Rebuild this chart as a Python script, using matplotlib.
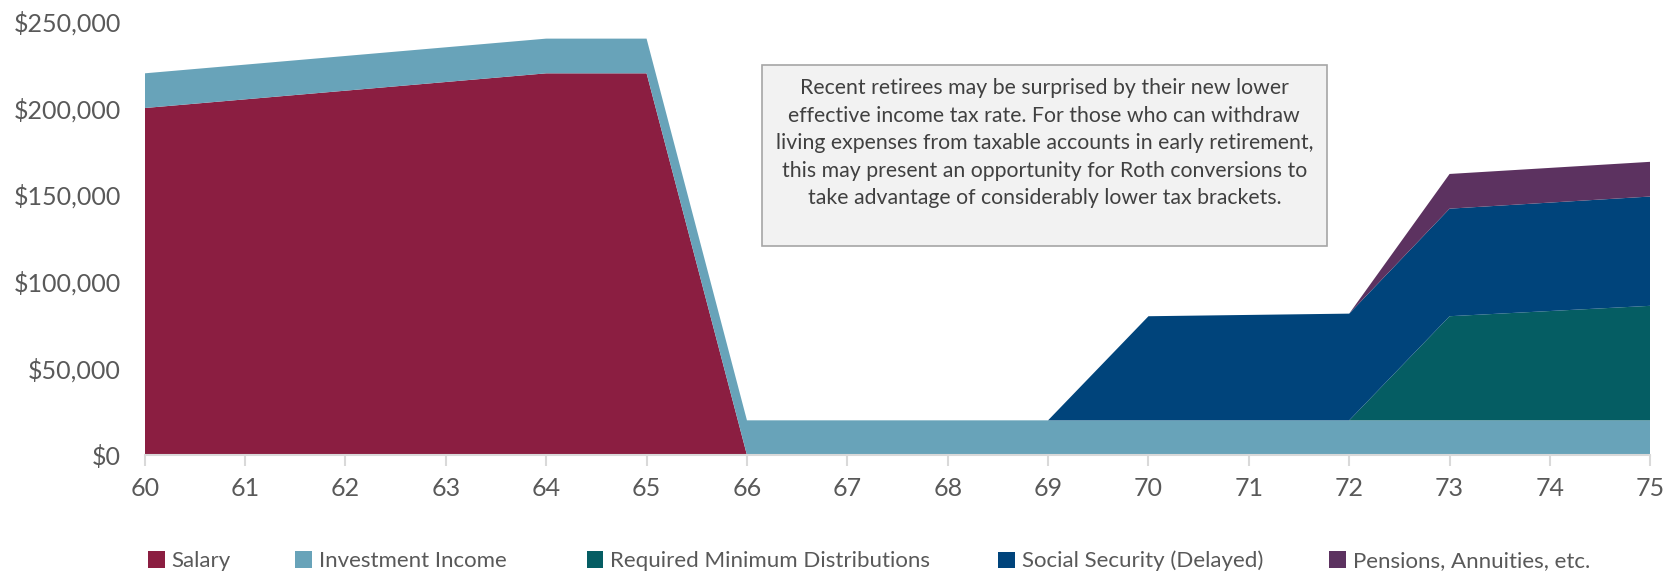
import matplotlib.pyplot as plt
from matplotlib.patches import Patch, Rectangle
import numpy as np

plt.rcParams['font.family'] = ['Lato', 'DejaVu Sans']

# ages along the x axis
ages = [60, 61, 62, 63, 64, 65, 66, 67, 68, 69, 70, 71, 72, 73, 74, 75]

# income by source, in dollars
salary = [200000, 205000, 210000, 215000, 220000, 220000, 0, 0, 0, 0, 0, 0, 0, 0, 0, 0]
investment = [20000] * 16
rmd = [0, 0, 0, 0, 0, 0, 0, 0, 0, 0, 0, 0, 0, 60000, 63000, 66000]
social_security = [0, 0, 0, 0, 0, 0, 0, 0, 0, 0, 60000, 60750, 61500, 62000, 62500, 63000]
pensions = [0, 0, 0, 0, 0, 0, 0, 0, 0, 0, 0, 0, 0, 20000, 20000, 20000]

labels = ["Salary", "Investment Income", "Required Minimum Distributions",
          "Social Security (Delayed)", "Pensions, Annuities, etc."]
colors = ["#8B1E41", "#68A3B9", "#055D63", "#00447B", "#5C3260"]

note = ("Recent retirees may be surprised by their new lower\n"
        "effective income tax rate. For those who can withdraw\n"
        "living expenses from taxable accounts in early retirement,\n"
        "this may present an opportunity for Roth conversions to\n"
        "take advantage of considerably lower tax brackets.")

fig = plt.figure(figsize=(16.67, 5.72), dpi=100)
ax = fig.add_axes([0.0868, 0.2045, 0.9032, 0.7583])

ax.stackplot(ages, salary, investment, rmd, social_security, pensions,
             colors=colors, linewidth=0)

ax.set_xlim(60, 75)
ax.set_ylim(0, 250000)
ax.set_xticks(ages)
ax.set_xticklabels([str(a) for a in ages])
ax.set_yticks(np.arange(0, 250001, 50000))
ax.yaxis.set_major_formatter(plt.FuncFormatter(lambda v, p: "${:,.0f}".format(v)))

for side in ["top", "right", "left"]:
    ax.spines[side].set_visible(False)
ax.spines["bottom"].set_color("#D9D9D9")
ax.spines["bottom"].set_linewidth(1.5)
ax.tick_params(axis="x", colors="#D9D9D9", length=8, width=1.5,
               labelcolor="#595959", labelsize=18, pad=8)
ax.tick_params(axis="y", length=0, labelcolor="#595959", labelsize=18, pad=17)

# annotation box
ax.add_patch(Rectangle((0.41, 0.482), 0.375, 0.417, transform=ax.transAxes,
                       facecolor="#F2F2F2", edgecolor="#A6A6A6", linewidth=1.2,
                       zorder=5))
ax.text(0.5975, 0.719, note, transform=ax.transAxes, ha="center", va="center",
        fontsize=15.3, color="#404040", linespacing=1.47, zorder=6)

# legend entries placed one by one along the bottom
legend_x = [0.0888, 0.1772, 0.3520, 0.5988, 0.7975]
for c, lab, lx in zip(colors, labels, legend_x):
    leg = fig.legend([Patch(facecolor=c, edgecolor="none")], [lab],
                     loc="center left", bbox_to_anchor=(lx, 0.019),
                     frameon=False, fontsize=16, borderpad=0, borderaxespad=0,
                     handlelength=0.75, handleheight=0.75, handletextpad=0.3,
                     labelcolor="#595959")

fig.savefig("out.png", dpi=100)
